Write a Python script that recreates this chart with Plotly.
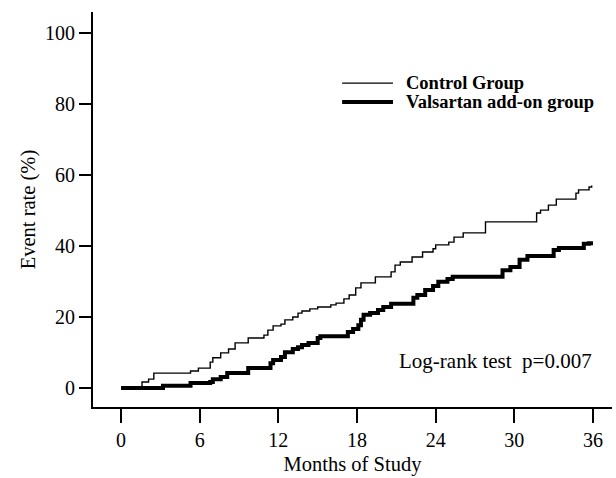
import plotly.graph_objects as go

# Control group (thin line) – step curve, months vs event rate %
control_months = [0, 1.6, 2.1, 2.5, 5.3, 5.9, 6.8, 7.0, 7.6, 8.2, 8.7, 9.7, 10.9, 11.2, 11.6,
                  12.2, 12.5, 13.1, 13.5, 13.8, 14.4, 15.0, 16.0, 16.4, 17.0, 17.4, 17.9,
                  18.3, 19.4, 20.6, 20.9, 21.3, 22.2, 23.0, 23.8, 24.0, 25.0, 25.4, 26.1,
                  27.8, 31.7, 32.0, 32.6, 33.2, 34.7, 34.9, 35.7, 35.9]
control_rate = [0, 1.7, 2.5, 4.2, 4.8, 5.6, 7.3, 8.5, 9.9, 11.0, 12.7, 14.1, 14.9, 16.3, 17.5,
                18.0, 19.2, 20.0, 21.1, 21.7, 22.3, 22.8, 23.4, 23.9, 25.1, 26.2, 28.2,
                29.6, 31.3, 32.7, 34.6, 35.5, 36.9, 38.3, 39.2, 40.3, 41.1, 42.5, 43.7,
                46.8, 49.3, 50.1, 51.5, 53.2, 54.9, 55.8, 56.6, 57.0]

# Valsartan add-on group (thick line)
valsartan_months = [0, 3.2, 5.3, 6.8, 7.0, 7.6, 8.1, 9.7, 11.4, 11.6, 12.2, 12.5, 13.1, 13.5,
                    13.8, 14.3, 15.0, 15.2, 17.3, 17.7, 18.1, 18.3, 18.5, 19.0, 19.6, 20.0,
                    20.6, 22.3, 22.6, 23.2, 23.8, 24.2, 24.9, 25.3, 29.1, 29.7, 30.4, 31.0,
                    33.0, 33.4, 35.3, 35.7, 36.0]
valsartan_rate = [0, 0.6, 1.4, 1.7, 2.5, 3.1, 4.2, 5.6, 7.0, 7.9, 8.7, 10.1, 11.0, 11.5,
                  12.1, 12.7, 14.1, 14.6, 15.8, 16.6, 17.7, 19.2, 20.6, 21.1, 22.0, 22.8,
                  23.7, 25.4, 26.2, 27.6, 28.7, 29.9, 30.7, 31.3, 33.2, 34.1, 36.1, 37.2,
                  38.9, 39.4, 40.6, 40.8, 40.8]

x_ticks = [0, 6, 12, 18, 24, 30, 36]
y_ticks = [0, 20, 40, 60, 80, 100]

series_names = ["Control Group", "Valsartan add-on group"]
series_widths = [1.4, 4]

FONT = "Liberation Serif, Times New Roman, serif"

fig = go.Figure()
fig.add_trace(go.Scatter(x=control_months, y=control_rate, mode="lines",
                         line=dict(color="black", width=series_widths[0], shape="hv"),
                         name=series_names[0], showlegend=False))
fig.add_trace(go.Scatter(x=valsartan_months, y=valsartan_rate, mode="lines",
                         line=dict(color="black", width=series_widths[1], shape="hv"),
                         name=series_names[1], showlegend=False))

# Custom legend (paper coordinates)
legend_y = [0.820, 0.772]
for name, w, ly in zip(series_names, series_widths, legend_y):
    fig.add_shape(type="line", xref="paper", yref="paper",
                  x0=0.48, x1=0.578, y0=ly, y1=ly,
                  line=dict(color="black", width=w))
    fig.add_annotation(text=f"<b>{name}</b>", xref="paper", yref="paper",
                       x=0.6, y=ly, xanchor="left", yanchor="middle", showarrow=False,
                       font=dict(family=FONT, size=18.5, color="black"))

fig.add_annotation(text="Log-rank test  p=0.007", x=36.1, y=7.5, xref="x", yref="y",
                   xanchor="right", yanchor="middle", showarrow=False,
                   font=dict(family=FONT, size=21, color="black"))

fig.update_layout(
    width=616, height=478,
    margin=dict(l=93, r=4, t=12, b=71),
    paper_bgcolor="white", plot_bgcolor="white",
    font=dict(family=FONT, size=20, color="black"),
    showlegend=False,
    xaxis=dict(range=[-2.14, 37.45], tickvals=x_ticks, ticktext=[str(v) for v in x_ticks],
               showgrid=False, zeroline=False, showline=True, linecolor="black", linewidth=2,
               ticks="outside", ticklen=14, tickwidth=2, tickcolor="black",
               tickfont=dict(family=FONT, size=20),
               title=dict(text="Months of Study", standoff=7,
                          font=dict(family=FONT, size=20.5))),
    yaxis=dict(range=[-5.35, 105.9], tickvals=y_ticks, ticktext=[str(v) for v in y_ticks],
               showgrid=False, zeroline=False, showline=True, linecolor="black", linewidth=2,
               ticks="outside", ticklen=12, tickwidth=2, tickcolor="black",
               tickfont=dict(family=FONT, size=20),
               title=dict(text="Event rate (%)", standoff=4,
                          font=dict(family=FONT, size=20.5))),
)

fig.write_html("out.html")
